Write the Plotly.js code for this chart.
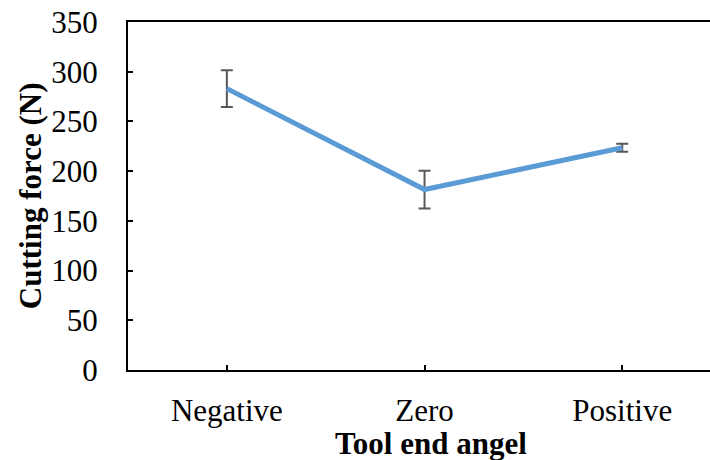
<!DOCTYPE html>
<html>
<head>
<meta charset="utf-8">
<script src="https://cdn.plot.ly/plotly-3.0.1.min.js"></script>
<style>
  html, body { margin: 0; padding: 0; overflow: hidden; background: #fff; }
  #chart { width: 710px; height: 460px; }
</style>
</head>
<body>
<div id="chart"></div>
<script>
// Tool end angle categories and mean cutting force with spread
const angles = ["Negative", "Zero", "Positive"];
const cuttingForce = [283, 181.5, 223.5];
const forceError = [18.5, 19, 4];
const yTicks = [0, 50, 100, 150, 200, 250, 300, 350];
const xTitle = "Tool end angel";
const yTitle = "Cutting force (N)";

const serif = "Liberation Serif, Times New Roman, serif";

const trace = {
  x: angles,
  y: cuttingForce,
  type: "scatter",
  mode: "lines",
  line: { color: "#5B9BD5", width: 5 },
  error_y: {
    type: "data",
    array: forceError,
    visible: true,
    color: "#595959",
    thickness: 2,
    width: 6
  },
  hoverinfo: "skip"
};

const layout = {
  width: 710,
  height: 460,
  margin: { l: 128, r: 0, t: 22, b: 90 },
  paper_bgcolor: "#ffffff",
  plot_bgcolor: "#ffffff",
  showlegend: false,
  font: { family: serif, color: "#000000", size: 31 },
  xaxis: {
    type: "category",
    range: [-0.5, 2.444],
    showgrid: false,
    zeroline: false,
    showline: true,
    linecolor: "#000000",
    linewidth: 2,
    mirror: true,
    ticks: "inside",
    ticklen: 5,
    tickwidth: 2,
    tickcolor: "#000000",
    ticklabelstandoff: 12,
    tickfont: { family: serif, size: 31, color: "#000000" }
  },
  yaxis: {
    range: [0, 350],
    tickvals: yTicks,
    ticktext: yTicks.map(String),
    showgrid: false,
    zeroline: false,
    showline: true,
    linecolor: "#000000",
    linewidth: 2,
    ticks: "inside",
    ticklen: 5,
    tickwidth: 2,
    tickcolor: "#000000",
    ticklabelstandoff: 22,
    tickfont: { family: serif, size: 31, color: "#000000" }
  },
  annotations: [
    {
      text: "<b>" + xTitle + "</b>",
      xref: "paper", yref: "paper",
      x: 0.5206, y: -0.212,
      xanchor: "center", yanchor: "middle",
      showarrow: false,
      font: { family: serif, size: 31, color: "#000000" }
    },
    {
      text: "<b>" + yTitle + "</b>",
      xref: "paper", yref: "paper",
      x: -0.168, y: 0.5,
      xanchor: "center", yanchor: "middle",
      textangle: -90,
      showarrow: false,
      font: { family: serif, size: 31, color: "#000000" }
    }
  ]
};

Plotly.newPlot("chart", [trace], layout, { displayModeBar: false, staticPlot: true });
</script>
</body>
</html>
